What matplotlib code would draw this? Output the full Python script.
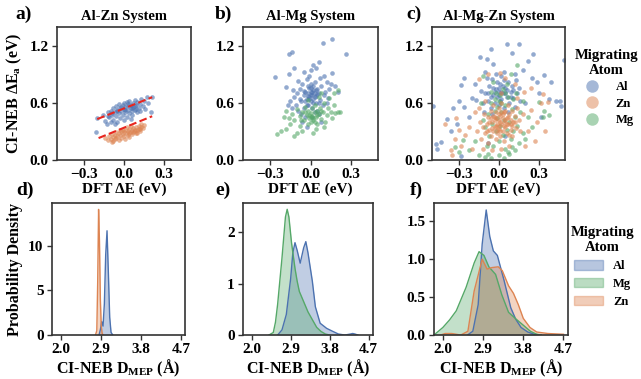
import numpy as np
import matplotlib
matplotlib.use("Agg")
import matplotlib.pyplot as plt
from matplotlib.lines import Line2D
from matplotlib.patches import Patch

plt.rcParams['font.family'] = ['Liberation Serif', 'DejaVu Serif']
plt.rcParams['font.weight'] = 'bold'
plt.rcParams['axes.labelweight'] = 'bold'
plt.rcParams['axes.titleweight'] = 'bold'
plt.rcParams['mathtext.fontset'] = 'custom'
plt.rcParams['mathtext.rm'] = 'Liberation Serif:bold'
plt.rcParams['mathtext.it'] = 'Liberation Serif:bold'
plt.rcParams['mathtext.bf'] = 'Liberation Serif:bold'

BLUE = '#4C72B0'
ORANGE = '#DD8452'
GREEN = '#55A868'

# ---- a) Al-Zn system: (DFT dE, CI-NEB dEa) ----
a_al_x = [-0.20, -0.16, -0.14, -0.12, -0.11, -0.10, -0.09, -0.08, -0.08, -0.07, -0.06, -0.06, -0.05, -0.04,
          -0.04, -0.03, -0.03, -0.02, -0.01, -0.01, 0.00, 0.00, 0.01, 0.01, 0.02, 0.02, 0.03, 0.03, 0.04, 0.04,
          0.05, 0.05, 0.06, 0.06, 0.07, 0.07, 0.08, 0.08, 0.09, 0.10, 0.10, 0.11, 0.12, 0.13, 0.14, 0.15, 0.16,
          0.17, 0.18, 0.20, 0.21, -0.21, -0.13, 0.05, -0.05, -0.10, 0.00, -0.07,
          -0.02, 0.03, 0.08, -0.09, 0.12, 0.01, -0.05, 0.06, -0.12, 0.09]
a_al_y = [0.44, 0.47, 0.41, 0.50, 0.45, 0.52, 0.47, 0.55, 0.42, 0.50, 0.57, 0.46, 0.53, 0.49,
          0.59, 0.44, 0.55, 0.51, 0.58, 0.47, 0.54, 0.60, 0.50, 0.56, 0.45, 0.61, 0.53, 0.57, 0.49, 0.62,
          0.55, 0.58, 0.51, 0.47, 0.60, 0.56, 0.53, 0.63, 0.58, 0.50, 0.61, 0.55, 0.59, 0.64, 0.57, 0.62, 0.54,
          0.66, 0.60, 0.50, 0.66, 0.29, 0.38, 0.43, 0.40, 0.40, 0.42, 0.38,
          0.56, 0.59, 0.57, 0.49, 0.52, 0.53, 0.51, 0.55, 0.46, 0.54]
a_zn_x = [-0.14, -0.12, -0.11, -0.10, -0.09, -0.08, -0.08, -0.07, -0.06, -0.06, -0.05, -0.04, -0.04, -0.03,
          -0.02, -0.02, -0.01, 0.00, 0.00, 0.01, 0.01, 0.02, 0.03, 0.03, 0.04, 0.04, 0.05, 0.06, 0.06, 0.07,
          0.07, 0.08, 0.09, 0.09, 0.10, 0.11, 0.11, 0.12, 0.13, 0.13, 0.14, 0.15, -0.09, 0.02, -0.03, 0.05,
          -0.01, 0.04, 0.08, 0.12, -0.07, 0.10]
a_zn_y = [0.23, 0.21, 0.25, 0.22, 0.27, 0.24, 0.20, 0.26, 0.23, 0.29, 0.25, 0.21, 0.28, 0.26,
          0.30, 0.23, 0.27, 0.29, 0.25, 0.32, 0.22, 0.28, 0.30, 0.26, 0.33, 0.24, 0.29, 0.31, 0.27, 0.34,
          0.29, 0.32, 0.28, 0.35, 0.31, 0.36, 0.33, 0.30, 0.35, 0.38, 0.34, 0.37, 0.19, 0.35, 0.32, 0.36,
          0.31, 0.28, 0.30, 0.33, 0.22, 0.28]
# fitted trend lines (endpoints)
fit_x = [-0.20, 0.21]
fit_al_y = [0.43, 0.66]
fit_zn_x = [-0.19, 0.21]
fit_zn_y = [0.23, 0.46]

# ---- b) Al-Mg system ----
b_al_x = [0.16, 0.09, 0.26, -0.16, -0.14, -0.26, -0.16, 0.06, -0.12, 0.04, 0.16, 0.00, 0.02, -0.05, 0.10,
          -0.18, 0.15, 0.18, 0.20, -0.15, -0.17, 0.12, 0.14,
          -0.10, -0.08, -0.07, -0.06, -0.05, -0.05, -0.04, -0.03, -0.03, -0.02, -0.02, -0.01, -0.01, 0.00,
          0.00, 0.00, 0.01, 0.01, 0.02, 0.02, 0.03, 0.03, 0.04, 0.04, 0.05, 0.05, 0.06, 0.07, 0.08, 0.09,
          0.10, 0.11, 0.12, -0.11, -0.12, -0.09, -0.07, -0.13, 0.06, -0.04, -0.09, 0.13, -0.01, 0.03, -0.06,
          0.08, 0.01, -0.03, 0.07, -0.14, 0.02, -0.02, 0.00, -0.04,
          -0.01, 0.01, 0.03, -0.05, 0.05, -0.02, 0.00, 0.04, -0.08, 0.06, 0.02, -0.03]
b_al_y = [1.27, 1.23, 1.12, 1.12, 1.14, 0.87, 0.90, 1.03, 0.97, 0.97, 0.91, 0.95, 1.00, 0.93, 0.88,
          0.77, 0.80, 0.78, 0.72, 0.62, 0.58, 0.82, 0.75,
          0.70, 0.75, 0.62, 0.80, 0.68, 0.55, 0.72, 0.64, 0.85, 0.70, 0.58, 0.76, 0.66, 0.72,
          0.62, 0.80, 0.68, 0.55, 0.74, 0.64, 0.70, 0.82, 0.60, 0.67, 0.75, 0.52, 0.70, 0.63, 0.78, 0.58,
          0.68, 0.72, 0.60, 0.58, 0.66, 0.52, 0.48, 0.74, 0.48, 0.45, 0.83, 0.65, 0.88, 0.50, 0.40,
          0.40, 0.45, 0.35, 0.86, 0.55, 0.60, 0.78, 0.68, 0.62,
          0.64, 0.71, 0.66, 0.73, 0.69, 0.67, 0.76, 0.74, 0.64, 0.60, 0.78, 0.58]
b_mg_x = [-0.25, -0.22, -0.18, -0.12, -0.10, -0.15, -0.20, -0.18, -0.14, -0.12, -0.10, -0.08, -0.08, -0.06,
          -0.05, -0.04, -0.03, -0.02, -0.02, -0.01, 0.00, 0.00, 0.01, 0.01, 0.02, 0.03, 0.03, 0.04, 0.05,
          0.05, 0.06, 0.07, 0.08, 0.09, 0.10, 0.10, 0.12, 0.13, 0.14, 0.15, 0.17, 0.18, 0.20, 0.22, 0.20,
          0.17, 0.06, 0.08, -0.02, 0.04, -0.06, 0.11, 0.16, -0.16, 0.02,
          -0.01, 0.02, 0.00, 0.05, -0.04, 0.08, 0.03, -0.07]
b_mg_y = [0.27, 0.30, 0.33, 0.25, 0.28, 0.38, 0.45, 0.52, 0.48, 0.42, 0.54, 0.46, 0.36, 0.50,
          0.42, 0.56, 0.47, 0.38, 0.52, 0.44, 0.49, 0.40, 0.55, 0.46, 0.42, 0.50, 0.58, 0.45, 0.52,
          0.38, 0.48, 0.55, 0.43, 0.50, 0.60, 0.35, 0.47, 0.55, 0.65, 0.50, 0.58, 0.49, 0.50, 0.50, 0.74,
          0.70, 0.66, 0.70, 0.63, 0.33, 0.30, 0.40, 0.44, 0.44, 0.28,
          0.47, 0.44, 0.45, 0.47, 0.50, 0.51, 0.40, 0.42]

# ---- c) Al-Mg-Zn system ----
c_al_x = [0.06, 0.15, -0.06, 0.10, -0.14, -0.04, -0.09, 0.26, 0.22, 0.49, 0.34, 0.39, -0.26, -0.28, -0.49,
          -0.39, -0.34, -0.43, -0.47, -0.46, -0.28, 0.43, 0.46, 0.47, 0.38, 0.29, -0.26, -0.20, -0.17, -0.31,
          -0.22, 0.30, 0.25, -0.10, 0.18, -0.18, 0.12, -0.36, 0.20, -0.30, -0.13, 0.32, -0.08, 0.05,
          -0.10, -0.08, -0.07, -0.06, -0.05, -0.04, -0.03, -0.02, -0.02, -0.01, 0.00, 0.00, 0.01, 0.02, 0.02,
          0.03, 0.04, 0.05, 0.06, 0.07, 0.08, 0.09, 0.10, 0.11, 0.12, 0.14, 0.16, -0.12, -0.11, 0.13, -0.05,
          0.04, 0.07, -0.09, 0.15, 0.01,
          -0.03, 0.00, 0.03, 0.06, -0.06, 0.09, -0.01, 0.02, 0.05, -0.04, 0.11, -0.08, 0.00, 0.04]
c_al_y = [1.22, 1.22, 1.17, 1.13, 1.08, 1.01, 1.06, 1.11, 1.04, 1.05, 0.89, 0.82, 0.86, 0.79, 0.57,
          0.43, 0.55, 0.19, 0.17, 0.12, 0.04, 0.62, 0.62, 0.57, 0.64, 0.82, 0.56, 0.65, 0.63, 0.38,
          0.45, 0.70, 0.86, 0.93, 0.95, 0.80, 0.90, 0.30, 0.60, 0.62, 0.73, 0.45, 0.18, 0.25,
          0.70, 0.62, 0.78, 0.55, 0.85, 0.68, 0.60, 0.75, 0.90, 0.66, 0.72, 0.58, 0.80, 0.64, 0.88,
          0.70, 0.55, 0.76, 0.66, 0.82, 0.60, 0.72, 0.78, 0.65, 0.56, 0.70, 0.62, 0.60, 0.50, 0.84, 0.48,
          0.93, 0.50, 0.86, 0.76, 0.62,
          0.72, 0.68, 0.78, 0.74, 0.66, 0.66, 0.82, 0.72, 0.70, 0.76, 0.74, 0.70, 0.76, 0.84]
c_zn_x = [-0.40, -0.35, -0.36, -0.15, 0.01, 0.19, 0.33, 0.37, 0.32, 0.24, -0.30, -0.33, -0.28, -0.25, -0.22,
          -0.20, 0.29, 0.35, 0.27, 0.22, -0.08, 0.05, 0.12, 0.24, -0.32, -0.18, 0.20,
          -0.16, -0.14, -0.13, -0.12, -0.11, -0.10, -0.09, -0.08, -0.08, -0.07, -0.06, -0.06, -0.05, -0.04,
          -0.04, -0.03, -0.03, -0.02, -0.02, -0.01, -0.01, 0.00, 0.00, 0.00, 0.01, 0.01, 0.02, 0.02, 0.03,
          0.03, 0.04, 0.04, 0.05, 0.05, 0.06, 0.06, 0.07, 0.07, 0.08, 0.09, 0.09, 0.10, 0.10, 0.11, 0.12,
          0.13, 0.14, 0.15, 0.16, 0.18, -0.12, 0.02, -0.05, 0.08, -0.15, 0.14, -0.10, 0.02,
          -0.02, 0.01, 0.04, -0.05, 0.07, -0.03, 0.00, 0.03, 0.06, -0.07, 0.10, -0.01, 0.02, 0.05,
          -0.04, 0.08, -0.09, 0.12, 0.01, -0.02, 0.04, -0.06, 0.09, 0.00]
c_zn_y = [0.38, 0.05, 0.10, 0.85, 0.91, 0.72, 0.69, 0.61, 0.60, 0.53, 0.31, 0.22, 0.15, 0.26, 0.35,
          0.12, 0.40, 0.30, 0.20, 0.30, 0.90, 0.86, 0.80, 0.76, 0.44, 0.50, 0.15,
          0.30, 0.40, 0.22, 0.35, 0.48, 0.28, 0.38, 0.18, 0.45, 0.32, 0.52, 0.25, 0.40, 0.30,
          0.58, 0.35, 0.45, 0.22, 0.50, 0.38, 0.28, 0.42, 0.33, 0.55, 0.46, 0.25, 0.38, 0.60, 0.30,
          0.48, 0.40, 0.20, 0.52, 0.35, 0.44, 0.28, 0.38, 0.58, 0.48, 0.32, 0.42, 0.52, 0.25, 0.40, 0.46,
          0.34, 0.55, 0.42, 0.30, 0.48, 0.12, 0.12, 0.10, 0.15, 0.55, 0.65, 0.62, 0.70,
          0.36, 0.40, 0.36, 0.34, 0.45, 0.42, 0.48, 0.44, 0.38, 0.40, 0.36, 0.32, 0.50, 0.42,
          0.46, 0.26, 0.30, 0.40, 0.30, 0.44, 0.50, 0.44, 0.38, 0.36]
c_mg_x = [-0.10, -0.06, -0.08, 0.10, 0.12, 0.08, 0.34, 0.30, 0.33, 0.38, -0.33, -0.27, -0.30, -0.22, -0.18,
          0.14, -0.12, 0.00, 0.04, 0.15, 0.20, 0.25, -0.15,
          -0.10, -0.08, -0.07, -0.06, -0.05, -0.04, -0.03, -0.02, -0.02, -0.01, 0.00, 0.00, 0.01, 0.02,
          0.03, 0.03, 0.04, 0.05, 0.05, 0.06, 0.07, 0.08, 0.09, 0.10, 0.11, 0.12, 0.13, 0.14, 0.16, 0.18,
          -0.12, -0.13, 0.06, -0.04, 0.09, 0.18, 0.22, -0.09,
          -0.03, 0.01, 0.05, 0.07, -0.06, 0.11, 0.02, -0.01]
c_mg_y = [0.03, 0.02, 0.06, 0.14, 0.10, 0.06, 0.52, 0.61, 0.45, 0.47, 0.14, 0.21, 0.08, 0.10, 0.20,
          1.00, 0.88, 0.05, 0.02, 0.18, 0.22, 0.35, 0.05,
          0.35, 0.48, 0.25, 0.60, 0.38, 0.15, 0.52, 0.30, 0.70, 0.44, 0.20, 0.62, 0.36, 0.50,
          0.26, 0.75, 0.42, 0.58, 0.12, 0.32, 0.66, 0.40, 0.22, 0.54, 0.30, 0.45, 0.70, 0.36, 0.50, 0.28,
          0.42, 0.60, 0.80, 0.82, 0.90, 0.62, 0.45, 0.15,
          0.64, 0.68, 0.70, 0.08, 0.72, 0.64, 0.60, 0.56]

# ---- d) Al-Zn D_MEP density ----
d_zn_x = [2.78, 2.81, 2.83, 2.85, 2.87, 2.89, 2.91, 2.93, 2.95]
d_zn_y = [0.0, 0.5, 6.0, 14.1, 10.5, 4.0, 1.0, 0.2, 0.0]
d_al_x = [2.86, 2.89, 2.92, 2.95, 2.98, 3.01, 3.04, 3.07, 3.10, 3.13, 3.17]
d_al_y = [0.0, 0.6, 1.5, 1.0, 3.5, 9.0, 11.7, 7.0, 2.0, 0.3, 0.0]

# ---- e) Al-Mg D_MEP density ----
e_al_x = [2.60, 2.70, 2.80, 2.90, 2.95, 3.00, 3.05, 3.12, 3.20, 3.25, 3.30, 3.40, 3.47, 3.58, 3.73,
          3.85, 4.00, 4.15, 4.28, 4.33, 4.38, 4.45]
e_al_y = [0.0, 0.1, 0.4, 1.1, 1.6, 1.8, 1.65, 1.4, 1.7, 1.82, 1.6, 1.05, 0.55, 0.23, 0.13,
          0.08, 0.02, 0.0, 0.02, 0.03, 0.02, 0.0]
e_mg_x = [2.40, 2.50, 2.55, 2.60, 2.70, 2.78, 2.82, 2.86, 2.92, 3.00, 3.05, 3.10, 3.20, 3.30, 3.40,
          3.50, 3.60, 3.70, 3.80]
e_mg_y = [0.0, 0.05, 0.25, 0.6, 1.5, 2.3, 2.45, 2.3, 1.8, 1.3, 1.05, 0.85, 0.65, 0.45, 0.3,
          0.15, 0.07, 0.02, 0.0]

# ---- f) Al-Mg-Zn D_MEP density ----
f_al_x = [2.55, 2.67, 2.79, 2.88, 2.97, 3.05, 3.13, 3.22, 3.37, 3.52, 3.63, 3.75, 3.90, 4.05, 4.20]
f_al_y = [0.0, 0.05, 0.4, 1.2, 1.65, 1.3, 1.11, 1.05, 0.72, 0.36, 0.21, 0.10, 0.04, 0.01, 0.0]
f_mg_x = [1.80, 2.00, 2.15, 2.30, 2.52, 2.70, 2.81, 2.92, 3.03, 3.18, 3.32, 3.47, 3.62, 3.80, 3.96,
          4.10, 4.20]
f_mg_y = [0.0, 0.1, 0.2, 0.32, 0.63, 0.95, 1.10, 1.05, 0.90, 0.80, 0.53, 0.30, 0.22, 0.13, 0.05,
          0.01, 0.0]
f_zn_x = [1.95, 2.05, 2.20, 2.40, 2.56, 2.70, 2.88, 2.99, 3.10, 3.24, 3.33, 3.47, 3.58, 3.69, 3.80,
          3.95, 4.10, 4.35, 4.70]
f_zn_y = [0.0, 0.02, 0.02, 0.0, 0.05, 0.58, 1.0, 0.87, 0.89, 0.90, 0.85, 0.65, 0.55, 0.40, 0.22,
          0.10, 0.04, 0.02, 0.01]

fig = plt.figure(figsize=(6.41, 3.79), dpi=100)
ax_a = fig.add_axes([0.089, 0.578, 0.209, 0.351])
ax_b = fig.add_axes([0.379, 0.578, 0.211, 0.351])
ax_c = fig.add_axes([0.674, 0.578, 0.208, 0.351])
ax_d = fig.add_axes([0.081, 0.116, 0.208, 0.348])
ax_e = fig.add_axes([0.379, 0.116, 0.203, 0.348])
ax_f = fig.add_axes([0.677, 0.116, 0.209, 0.348])

tick_fs = 11
for ax in [ax_a, ax_b, ax_c, ax_d, ax_e, ax_f]:
    for sp in ax.spines.values():
        sp.set_linewidth(1.2)
        sp.set_color('#333333')
    ax.tick_params(labelsize=tick_fs, length=3.5, width=1, color='#333333', pad=2.5)

sc_kw = dict(s=11, alpha=0.6, linewidths=0)

ax_a.scatter(a_al_x, a_al_y, color=BLUE, **sc_kw)
ax_a.scatter(a_zn_x, a_zn_y, color=ORANGE, **sc_kw)
ax_a.plot(fit_x, fit_al_y, '--', color='#e8261f', lw=1.5)
ax_a.plot(fit_zn_x, fit_zn_y, '--', color='#e8261f', lw=1.5)

ax_b.scatter(b_al_x, b_al_y, color=BLUE, **sc_kw)
ax_b.scatter(b_mg_x, b_mg_y, color=GREEN, **sc_kw)

ax_c.scatter(c_al_x, c_al_y, color=BLUE, **sc_kw)
ax_c.scatter(c_mg_x, c_mg_y, color=GREEN, **sc_kw)
ax_c.scatter(c_zn_x, c_zn_y, color=ORANGE, **sc_kw)

titles = ['Al-Zn System', 'Al-Mg System', 'Al-Mg-Zn System']
for ax, t in zip([ax_a, ax_b, ax_c], titles):
    ax.set_xlim(-0.5, 0.5)
    ax.set_ylim(0, 1.4)
    ax.set_xticks([-0.3, 0.0, 0.3])
    ax.set_xticklabels(['\u22120.3', '0.0', '0.3'], fontweight='bold')
    ax.set_yticks([0.0, 0.6, 1.2])
    ax.set_yticklabels(['0.0', '0.6', '1.2'], fontweight='bold')
    ax.set_title(t, fontsize=10.5, fontweight='bold', pad=5)
    ax.set_xlabel('DFT \u0394E (eV)', fontsize=11, labelpad=1)
ax_a.set_ylabel('CI-NEB \u0394E$_a$ (eV)', fontsize=11.5, labelpad=4)


def density(ax, x, y, color):
    ax.fill_between(x, 0, y, color=color, alpha=0.35, linewidth=0)
    ax.plot(x, y, color=color, lw=1)


density(ax_d, d_al_x, d_al_y, BLUE)
density(ax_d, d_zn_x, d_zn_y, ORANGE)
density(ax_e, e_al_x, e_al_y, BLUE)
density(ax_e, e_mg_x, e_mg_y, GREEN)
density(ax_f, f_al_x, f_al_y, BLUE)
density(ax_f, f_mg_x, f_mg_y, GREEN)
density(ax_f, f_zn_x, f_zn_y, ORANGE)

for ax in [ax_d, ax_e, ax_f]:
    ax.set_xlim(1.8, 4.8)
    ax.set_xticks([2.0, 2.9, 3.8, 4.7])
    ax.set_xticklabels(['2.0', '2.9', '3.8', '4.7'], fontweight='bold')
    ax.set_xlabel('CI-NEB D$_{MEP}$ (\u00c5)', fontsize=11.5, labelpad=1)
ax_d.set_ylim(0, 14.8)
ax_d.set_yticks([0, 5, 10])
ax_d.set_yticklabels(['0', '5', '10'], fontweight='bold')
ax_e.set_ylim(0, 2.57)
ax_e.set_yticks([0, 1, 2])
ax_e.set_yticklabels(['0', '1', '2'], fontweight='bold')
ax_f.set_ylim(0, 1.74)
ax_f.set_yticks([0.0, 0.5, 1.0, 1.5])
ax_f.set_yticklabels(['0.0', '0.5', '1.0', '1.5'], fontweight='bold')
ax_d.set_ylabel('Probability Density', fontsize=11.5, labelpad=4)

# legends
h_c = [Line2D([], [], ls='', marker='o', markersize=9, color=c, alpha=0.5, markeredgewidth=0)
       for c in [BLUE, ORANGE, GREEN]]
leg = ax_c.legend(h_c, ['Al', 'Zn', 'Mg'], title='Migrating\nAtom', loc='upper center',
                  bbox_to_anchor=(1.31, 0.90), frameon=False, prop={'size': 9, 'weight': 'bold'},
                  title_fontproperties={'size': 10.5, 'weight': 'bold'}, handletextpad=0.9,
                  labelspacing=0.35, borderpad=0.2)
leg.get_title().set_multialignment('center')

h_f = [Patch(facecolor=c, edgecolor=c, alpha=0.4) for c in [BLUE, GREEN, ORANGE]]
leg2 = ax_f.legend(h_f, ['Al', 'Mg', 'Zn'], title='Migrating\nAtom', loc='upper center',
                   bbox_to_anchor=(1.26, 0.89), frameon=False, prop={'size': 9, 'weight': 'bold'},
                   title_fontproperties={'size': 10.5, 'weight': 'bold'}, handletextpad=0.8,
                   handlelength=2.3, handleheight=0.8, labelspacing=0.45, borderpad=0.2)
leg2.get_title().set_multialignment('center')

# panel letters
for ax, lab, dx in [(ax_a, 'a)', -0.31), (ax_b, 'b)', -0.21), (ax_c, 'c)', -0.19),
                    (ax_d, 'd)', -0.27), (ax_e, 'e)', -0.21), (ax_f, 'f)', -0.18)]:
    ax.text(dx, 1.03, lab, transform=ax.transAxes, fontsize=14, fontweight='bold',
            va='bottom', ha='left')

fig.savefig('out.png', dpi=100)
